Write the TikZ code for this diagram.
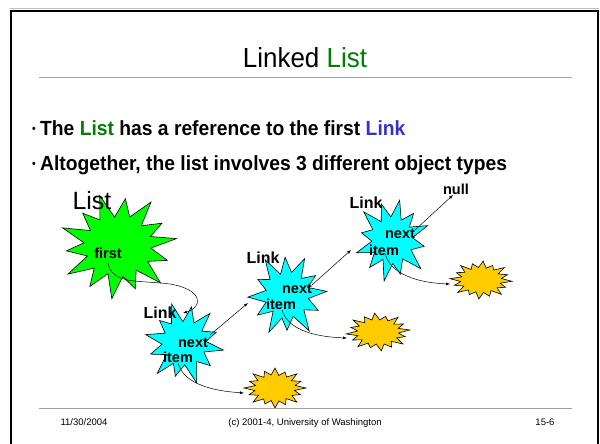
\documentclass[tikz,border=0pt]{standalone}
\usepackage{fontspec}
\setmainfont{Liberation Sans}[FakeStretch=0.94]
\newfontfamily\plainsans{Liberation Sans}
\usetikzlibrary{arrows.meta}
\definecolor{listgreen}{RGB}{0,128,0}
\definecolor{linkblue}{RGB}{51,51,204}
\definecolor{burstgreen}{RGB}{0,255,0}
\definecolor{burstcyan}{RGB}{0,255,255}
\definecolor{burstyellow}{RGB}{255,204,0}
\definecolor{rulegray}{RGB}{160,160,160}
\newcommand\burstA{(0:1) -- (14:0.54) -- (30:0.86) -- (45:0.55) -- (62:1.02) -- (78:0.53) -- (95:0.84) -- (108:0.56) -- (122:1.0) -- (137:0.52) -- (152:0.88) -- (167:0.55) -- (182:0.98) -- (197:0.53) -- (212:0.82) -- (226:0.56) -- (242:1.0) -- (257:0.52) -- (272:0.9) -- (287:0.55) -- (302:0.97) -- (317:0.53) -- (332:0.85) -- (346:0.55) -- cycle}
\newcommand\burstG{(0:1) -- (12:0.56) -- (26:0.88) -- (38:0.58) -- (52:1.0) -- (64:0.55) -- (78:0.86) -- (90:0.58) -- (104:1.0) -- (116:0.55) -- (130:0.9) -- (142:0.58) -- (156:1.0) -- (168:0.55) -- (182:0.88) -- (194:0.58) -- (208:1.0) -- (220:0.55) -- (234:0.86) -- (246:0.58) -- (260:1.0) -- (272:0.55) -- (286:0.9) -- (298:0.58) -- (312:1.0) -- (324:0.55) -- (338:0.86) -- (350:0.58) -- cycle}
\newcommand\burstB{(0:1) -- (11:0.64) -- (22:0.88) -- (34:0.66) -- (45:1.0) -- (56:0.64) -- (68:0.9) -- (79:0.66) -- (90:1.0) -- (101:0.64) -- (112:0.86) -- (124:0.66) -- (135:1.0) -- (146:0.64) -- (158:0.9) -- (169:0.66) -- (180:1.0) -- (191:0.64) -- (202:0.88) -- (214:0.66) -- (225:1.0) -- (236:0.64) -- (248:0.9) -- (259:0.66) -- (270:1.0) -- (281:0.64) -- (292:0.86) -- (304:0.66) -- (315:1.0) -- (326:0.64) -- (338:0.9) -- (349:0.66) -- cycle}
\tikzset{
  burst/.style={draw=black, line width=0.6pt, line join=miter},
  lbl/.style={font=\plainsans\bfseries\fontsize{14.5}{16}\selectfont, inner sep=0pt},
  linklbl/.style={font=\plainsans\bfseries\fontsize{16}{18}\selectfont, inner sep=0pt},
  conn/.style={draw=black, line width=0.5pt, -{Latex[length=4pt,width=3pt]}},
  rulestyle/.style={draw=rulegray, line width=1pt},
  foot/.style={font=\plainsans\fontsize{9.5}{11}\selectfont, inner sep=0pt, anchor=base},
  bullettext/.style={font=\bfseries\fontsize{20.5}{24}\selectfont, inner sep=0pt, anchor=base west},
  bulletdot/.style={font=\bfseries\fontsize{11}{12}\selectfont, inner sep=0pt, anchor=base}
}
\begin{document}
\begin{tikzpicture}[x=1pt,y=-1pt]
\useasboundingbox (0,0) rectangle (600,444);
\fill[white] (0,0) rectangle (600,444);
% slide frame
\draw[gray!50, line width=1pt] (10,8.5) -- (599,8.5);
\draw[black, line width=2pt] (11,460) -- (11,11) -- (598,11) -- (598,460);
% title
\node[inner sep=0pt, anchor=base, font=\fontsize{27.6}{30}\selectfont] (title) at (305,68) {Linked \textcolor{listgreen}{List}};
\draw[rulestyle] (39,77.5) -- (572,77.5);
% bullets
\node[bulletdot] (d1) at (34,132) {•};
\node[bullettext] (b1) at (40,135) {The \textcolor{listgreen}{List} has a reference to the first \textcolor{linkblue}{Link}};
\node[bulletdot] (d2) at (34,167) {•};
\node[bullettext] (b2) at (40,170) {Altogether, the list involves 3 different object types};
% stars
\begin{scope}[shift={(118,246)}, xscale=59, yscale=53, rotate=8]
  \filldraw[burst, fill=burstgreen] \burstG;
\end{scope}
\begin{scope}[shift={(184,343)}, xscale=40, yscale=41, rotate=-10]
  \filldraw[burst, fill=burstcyan] \burstA;
\end{scope}
\begin{scope}[shift={(287,295)}, xscale=40, yscale=42, rotate=5]
  \filldraw[burst, fill=burstcyan] \burstA;
\end{scope}
\begin{scope}[shift={(392,240)}, xscale=38, yscale=42, rotate=20]
  \filldraw[burst, fill=burstcyan] \burstA;
\end{scope}
\begin{scope}[shift={(275,388)}, xscale=31, yscale=20]
  \filldraw[burst, fill=burstyellow] \burstB;
\end{scope}
\begin{scope}[shift={(378,332)}, xscale=32, yscale=19, rotate=6]
  \filldraw[burst, fill=burstyellow] \burstB;
\end{scope}
\begin{scope}[shift={(481,280)}, xscale=31, yscale=19, rotate=-4]
  \filldraw[burst, fill=burstyellow] \burstB;
\end{scope}
% labels
\node[inner sep=0pt, font=\plainsans\fontsize{25}{27}\selectfont] (listlbl) at (92,201) {List};
\node[lbl] (first) at (108,253) {first};
\node[linklbl] (link1) at (160,313) {Link};
\node[lbl] (next1) at (193,343) {next};
\node[lbl] (item1) at (178,357) {item};
\node[linklbl] (link2) at (263,258) {Link};
\node[lbl] (next2) at (297,289) {next};
\node[lbl] (item2) at (281,304) {item};
\node[linklbl] (link3) at (366,203) {Link};
\node[lbl] (next3) at (400,234) {next};
\node[lbl] (item3) at (384,250) {item};
\node[lbl] (null) at (456,189) {null};
% connector end points
\coordinate (firstOut) at (108,263);
\coordinate (l1In) at (183,313);
\coordinate (n1Out) at (210,335);
\coordinate (l2In) at (248,303);
\coordinate (i1Out) at (178,363);
\coordinate (y1In) at (244,393);
\coordinate (n2Out) at (312,285);
\coordinate (l3In) at (351,250);
\coordinate (i2Out) at (282,310);
\coordinate (y2In) at (347,338);
\coordinate (n3Out) at (415,230);
\coordinate (nullIn) at (453,195);
\coordinate (i3Out) at (385,253);
\coordinate (y3In) at (450,284);
% connectors
\draw[conn] (firstOut) .. controls (112,285) and (140,280) .. (170,284) .. controls (205,290) and (202,308) .. (l1In);
\draw[conn] (n1Out) -- (l2In);
\draw[conn] (i1Out) .. controls (184,385) and (215,391) .. (y1In);
\draw[conn] (n2Out) -- (l3In);
\draw[conn] (i2Out) .. controls (288,331) and (318,337) .. (y2In);
\draw[conn] (n3Out) -- (nullIn);
\draw[conn] (i3Out) .. controls (390,275) and (420,283) .. (y3In);
% footer
\draw[rulestyle] (39,408) -- (572,408);
\node[foot] (date) at (84,425.5) {11/30/2004};
\node[foot] (copy) at (305,425.5) {(c) 2001-4, University of Washington};
\node[foot] (page) at (545,425.5) {15-6};
\end{tikzpicture}
\end{document}
